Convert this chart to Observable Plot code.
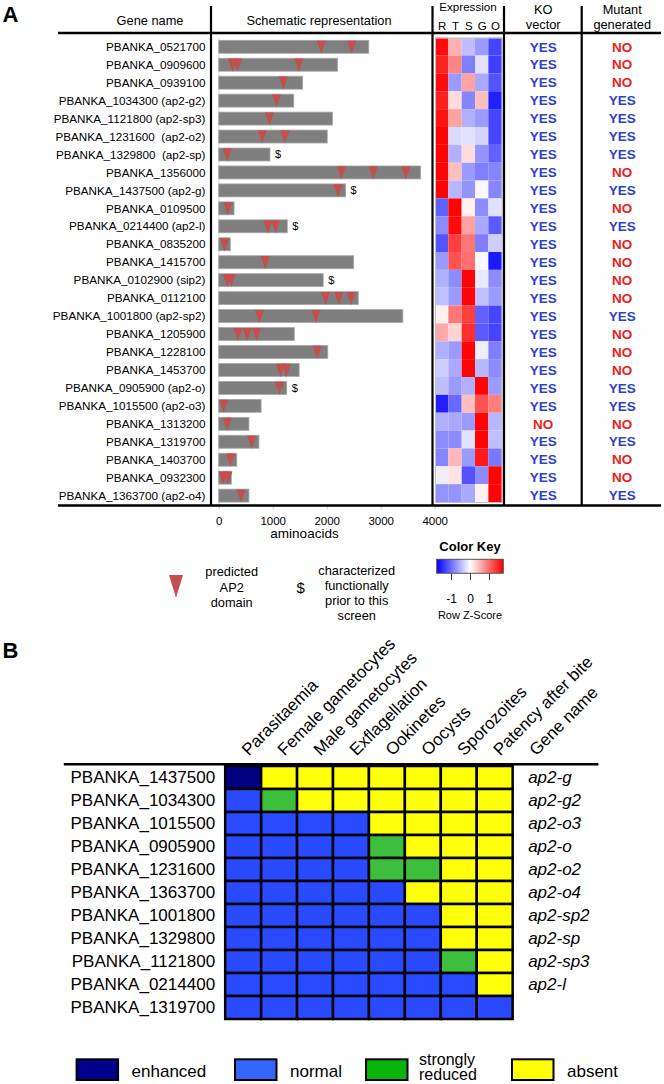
<!DOCTYPE html>
<html><head><meta charset="utf-8">
<script src="https://cdn.jsdelivr.net/npm/d3@7"></script>
<script src="https://cdn.jsdelivr.net/npm/@observablehq/plot@0.6"></script>
<style>
body{margin:0;background:#fff;}
#fig{position:relative;width:664px;height:1084px;font-family:"Liberation Sans",Arial,sans-serif;overflow:hidden;background:#fff;}
#fig svg{display:block;}
</style></head><body><div id="fig"></div>
<script>
// ---------------- Panel A data ----------------
const geneIds = ["PBANKA_0521700","PBANKA_0909600","PBANKA_0939100","PBANKA_1034300","PBANKA_1121800","PBANKA_1231600","PBANKA_1329800","PBANKA_1356000","PBANKA_1437500","PBANKA_0109500","PBANKA_0214400","PBANKA_0835200","PBANKA_1415700","PBANKA_0102900","PBANKA_0112100","PBANKA_1001800","PBANKA_1205900","PBANKA_1228100","PBANKA_1453700","PBANKA_0905900","PBANKA_1015500","PBANKA_1313200","PBANKA_1319700","PBANKA_1403700","PBANKA_0932300","PBANKA_1363700"];
const geneLabels = ["PBANKA_0521700","PBANKA_0909600","PBANKA_0939100","PBANKA_1034300 (ap2-g2)","PBANKA_1121800 (ap2-sp3)","PBANKA_1231600  (ap2-o2)","PBANKA_1329800  (ap2-sp)","PBANKA_1356000","PBANKA_1437500 (ap2-g)","PBANKA_0109500","PBANKA_0214400 (ap2-l)","PBANKA_0835200","PBANKA_1415700","PBANKA_0102900 (sip2)","PBANKA_0112100","PBANKA_1001800 (ap2-sp2)","PBANKA_1205900","PBANKA_1228100","PBANKA_1453700","PBANKA_0905900 (ap2-o)","PBANKA_1015500 (ap2-o3)","PBANKA_1313200","PBANKA_1319700","PBANKA_1403700","PBANKA_0932300","PBANKA_1363700 (ap2-o4)"];
const proteinLength = [2780,2200,1555,1390,2105,2010,950,3740,2350,285,1270,215,2500,1935,2585,3410,1400,2020,1490,1260,785,560,745,335,235,560];
const ap2Domains = [[1890,2455],[250,340,1475],[1190],[1060],[930],[795,1215],[150],[2260,2850,3455],[2200],[160],[900,1045],[100],[850],[150,225],[1970,2215,2445],[745,1790],[345,520,690],[1815],[1135,1245],[1115],[80],[150],[600],[210],[75,160],[405]];
const priorCharacterized = [0,0,0,0,0,0,1,0,1,0,1,0,0,1,0,0,0,0,0,1,0,0,0,0,0,0];
const xTicks = [0,1000,2000,3000,4000];

const exprCols = ["R","T","S","G","O"];
const zR = [1.7,1.55,1.7,1.55,1.65,1.75,1.75,1.75,1.75,-1.1,-0.8,-1.2,-0.7,-0.55,-0.45,0.1,0.6,-0.55,-0.35,-0.45,-1.55,-0.55,-0.8,-0.85,-0.12,-0.75];
const zT = [0.55,0.85,-0.7,0.25,0.65,-0.25,-0.55,0.45,-0.5,1.75,1.7,1.35,1.2,-0.8,-0.7,0.95,0.3,-0.7,-0.6,-0.7,-1.05,-0.6,-0.8,0.5,0.2,-0.75];
const zS = [-0.45,-0.9,0.65,-0.85,-0.55,-0.2,0.25,-0.7,-0.75,0.1,0.65,0.95,1.0,1.75,1.75,1.35,1.45,1.75,1.75,-0.55,0.45,-0.7,-0.2,-0.7,-1.2,-0.6];
const zG = [-0.7,-0.2,-0.6,0.45,-0.7,-0.3,-0.75,-0.9,-0.05,-0.8,-0.6,-0.9,-0.05,-0.15,-0.45,-1.1,-1.15,-0.12,-0.5,1.75,1.2,1.75,1.75,1.6,-0.8,0.1];
const zO = [-1.3,-1.35,-1.2,-1.55,-1.3,-1.3,-1.1,-0.85,-0.85,-0.2,-1.15,-0.35,-1.6,-0.8,-0.7,-1.3,-1.3,-0.9,-0.8,-0.7,0.9,-0.5,-0.45,-0.95,1.75,1.75];
const zKeyTicks = [-1,0,1];

const koVector = ["YES","YES","YES","YES","YES","YES","YES","YES","YES","YES","YES","YES","YES","YES","YES","YES","YES","YES","YES","YES","YES","NO","YES","YES","YES","YES"];
const mutantGenerated = ["NO","NO","NO","YES","YES","YES","YES","NO","YES","NO","YES","NO","NO","NO","NO","YES","NO","NO","NO","YES","YES","NO","YES","NO","NO","YES"];
const ynCols = ["KO vector","Mutant generated"];

// ---------------- Panel B data ----------------
const stages = ["Parasitaemia","Female gametocytes","Male gametocytes","Exflagellation","Ookinetes","Oocysts","Sporozoites","Patency after bite"];
const bGenes = ["PBANKA_1437500","PBANKA_1034300","PBANKA_1015500","PBANKA_0905900","PBANKA_1231600","PBANKA_1363700","PBANKA_1001800","PBANKA_1329800","PBANKA_1121800","PBANKA_0214400","PBANKA_1319700"];
const bNames = ["ap2-g","ap2-g2","ap2-o3","ap2-o","ap2-o2","ap2-o4","ap2-sp2","ap2-sp","ap2-sp3","ap2-l",""];
const bPhenotype = ["EAAAAAAA","NSAAAAAA","NNNNAAAA","NNNNSAAA","NNNNSSAA","NNNNNAAA","NNNNNNAA","NNNNNNAA","NNNNNNSA","NNNNNNNA","NNNNNNNN"];
const statusNames = ["enhanced","normal","strongly reduced","absent"];
const statusCode = {E:"enhanced",N:"normal",S:"strongly reduced",A:"absent"};
const legendLabels = ["enhanced","normal","strongly\nreduced","absent"];

// ---------------- styling ----------------
const FONT = '"Liberation Sans", Arial, sans-serif';
const cellColors = ["#000080","#2a4aff","#3dbf3d","#ffff0a"];
const legendColors = ["#000088","#3366ff","#0ab40a","#ffff00"];
const zColor = {type:"linear", domain:[-1.78,0,1.78], range:["#0000ff","#ffffff","#ff0000"], interpolate:"rgb", clamp:true};
const baseStyle = {background:"transparent", overflow:"visible", fontFamily:FONT, fontSize:"11.5px", color:"black"};
const fig = document.getElementById("fig");
function place(el, left, top){ const d=document.createElement("div"); d.style.position="absolute"; d.style.left=left+"px"; d.style.top=top+"px"; d.style.lineHeight="0"; d.appendChild(el); fig.appendChild(d); return el; }

const downTri = { draw(ctx, size){ const r=Math.sqrt(size/Math.PI), h=r*1.42; ctx.moveTo(-r,-h); ctx.lineTo(r,-h); ctx.lineTo(0,h); ctx.closePath(); } };

// ---------------- Panel A: names + schematic ----------------
const rowsA = geneIds.map((id,i)=>({id, label:geneLabels[i], len:proteinLength[i], dollar:priorCharacterized[i]}));
const domRows = geneIds.flatMap((id,i)=>ap2Domains[i].map(pos=>({id,pos})));
const a1 = Plot.plot({
  width:460, height:545, marginLeft:218.7, marginRight:25.3, marginTop:37.7, marginBottom:40.5,
  x:{domain:[0,4000], axis:null},
  y:{type:"band", domain:geneIds, axis:null, padding:0, round:false},
  style:baseStyle,
  marks:[
    Plot.ruleX([0], {stroke:"#dcdcdc"}),
    Plot.barX(rowsA, {x1:0, x2:"len", y:"id", fill:"#7f7f7f", stroke:"#a8a8a8", strokeWidth:0.8, insetTop:2.6, insetBottom:2.4}),
    Plot.dot(domRows, {x:"pos", y:"id", symbol:downTri, r:4.6, fill:"#c4504e", stroke:null}),
    Plot.text(rowsA.filter(d=>d.dollar), {x:"len", y:"id", text:()=>"$", dx:7.5, fontSize:11}),
    Plot.text(rowsA, {y:"id", text:"label", frameAnchor:"left", dx:-13.7, textAnchor:"end", fontSize:11.7, ariaLabel:"genelab"}),
    Plot.axisX({anchor:"bottom", ticks:xTicks, tickFormat:"d", tickSize:5, tickPadding:6.5, stroke:"#c8c8c8", fill:"black", fontSize:11.5, label:null}),
    Plot.text(["aminoacids"], {frameAnchor:"bottom", dx:-22.7, dy:33, fontSize:13.5})
  ]
});
a1.querySelectorAll('g[aria-label="genelab"] text').forEach(t=>{
  const m = t.textContent.match(/^(.*\()([^)]*)(\))$/);
  if(!m) return;
  t.textContent="";
  [[m[1],null],[m[2],"italic"],[m[3],null]].forEach(([txt,st])=>{
    const ts=document.createElementNS("http://www.w3.org/2000/svg","tspan");
    if(st) ts.setAttribute("font-style",st);
    ts.textContent=txt; t.appendChild(ts);
  });
});
place(a1,0,0);

// ---------------- Panel A: expression heatmap ----------------
const zCols=[zR,zT,zS,zG,zO];
const heat = geneIds.flatMap((id,i)=>exprCols.map((c,j)=>({id,col:c,z:zCols[j][i]})));
const a2 = Plot.plot({
  width:100, height:545, marginLeft:15, marginRight:18.3, marginTop:37.7, marginBottom:43,
  x:{type:"band", domain:exprCols, axis:null, padding:0, round:false},
  y:{type:"band", domain:geneIds, axis:null, padding:0, round:false},
  color:zColor,
  style:baseStyle,
  marks:[
    Plot.cell(heat, {x:"col", y:"id", fill:"z"}),
    Plot.frame({stroke:"#c0c0c0"}),
    Plot.text(exprCols, {x:d=>d, frameAnchor:"top", dy:-16.5, fontSize:11.5})
  ]
});
place(a2,420,0);

// ---------------- Panel A: KO / mutant ----------------
const yn = geneIds.flatMap((id,i)=>[{id,col:ynCols[0],v:koVector[i]},{id,col:ynCols[1],v:mutantGenerated[i]}]);
const a3 = Plot.plot({
  width:164, height:545, marginLeft:3.2, marginRight:2.8, marginTop:37.7, marginBottom:40.5,
  x:{type:"band", domain:ynCols, axis:null, padding:0, round:false},
  y:{type:"band", domain:geneIds, axis:null, padding:0, round:false},
  color:{domain:["YES","NO"], range:["#2e3fd1","#ee1c1c"]},
  style:baseStyle,
  marks:[
    Plot.text(yn, {x:"col", y:"id", text:"v", fill:"v", fontWeight:"bold", fontSize:13.5}),
    Plot.text(ynCols, {x:d=>d, text:d=>d.replace(" ","\n"), frameAnchor:"top", lineAnchor:"bottom", dy:-9.4, fontSize:12.8, lineHeight:1.15})
  ]
});
place(a3,500,0);

// ---------------- Color key ----------------
const key = Plot.legend({
  color:zColor,
  ticks:zKeyTicks, tickFormat:d=>String(d),
  width:100, height:52, marginLeft:16.7, marginRight:16.7, marginTop:4, marginBottom:34,
  tickSize:18, label:null,
  style:{background:"transparent", overflow:"visible", fontFamily:FONT, fontSize:"12px", color:"black"}
});
key.querySelectorAll(".tick line").forEach(l=>{ l.setAttribute("y1",0); l.setAttribute("y2",7); l.setAttribute("stroke","#333"); });
key.querySelectorAll(".domain").forEach(p=>p.remove());
place(key,420,555.3);

// ---------------- Panel B ----------------
const phen = bGenes.flatMap((g,i)=>stages.map((s,j)=>({gene:g, stage:s, status:statusCode[bPhenotype[i][j]]})));
const bCols = [...stages,"Gene name"];
const pb = Plot.plot({
  width:664, height:400, marginLeft:225.2, marginRight:115.4, marginTop:126, marginBottom:21,
  x:{type:"band", domain:bCols, axis:null, padding:0, round:false},
  y:{type:"band", domain:bGenes, axis:null, padding:0, round:false},
  color:{domain:statusNames, range:cellColors},
  style:{...baseStyle, fontSize:"17px"},
  marks:[
    Plot.cell(phen, {x:"stage", y:"gene", fill:"status", stroke:"black", strokeWidth:2.5}),
    Plot.text(bGenes, {y:d=>d, frameAnchor:"left", textAnchor:"end", dx:-10.6, fontSize:17}),
    Plot.text(bGenes.map((g,i)=>({g,n:bNames[i]})), {x:()=>"Gene name", y:"g", text:"n", textAnchor:"start", dx:-3, fontSize:17, fontStyle:"italic"}),
    Plot.text(bCols, {x:d=>d, frameAnchor:"top", rotate:-45, textAnchor:"start", lineAnchor:"bottom", dx:5, dy:-10, fontSize:17})
  ]
});
place(pb,0,640);

// ---------------- decorations (rules, headers, legends) ----------------
const deco = d3.create("svg").attr("width",664).attr("height",1084)
  .style("position","absolute").style("left","0px").style("top","0px").style("font-family",FONT);
const L = (x1,y1,x2,y2,w)=>deco.append("line").attr("x1",x1).attr("y1",y1).attr("x2",x2).attr("y2",y2).attr("stroke","black").attr("stroke-width",w);
L(58,33,661,33,2.3); L(58,505.5,661,505.5,2.3);
[211,432.5,504,581.7].forEach(x=>L(x,6,x,505.5,2.2));
L(63.8,764.3,598.4,764.3,2.5);
const T = (txt,x,y,size,opts={})=>{ const t=deco.append("text").attr("x",x).attr("y",y).attr("font-size",size).attr("text-anchor",opts.anchor||"middle").text(txt); if(opts.bold) t.attr("font-weight","bold"); if(opts.italic) t.attr("font-style","italic"); return t; };
T("A",2.5,21.5,22,{anchor:"start",bold:true});
T("B",2.5,657.5,22,{anchor:"start",bold:true});
T("Gene name",150,24.5,12.8);
T("Schematic representation",319,24.5,12.8);
T("Expression",468,10.8,11.6);
deco.append("path").attr("d","M169,575L183,575L176,597.7Z").attr("fill","#c4504e");
["predicted","AP2","domain"].forEach((s,i)=>T(s,231.7,576.3+i*15.2,12.8));
T("$",300.7,592.5,15);
["characterized","functionally","prior to this","screen"].forEach((s,i)=>T(s,356.7,574.5+i*15.2,12.8));
T("Color Key",470,551.3,13,{bold:true});
deco.append("rect").attr("x",436.7).attr("y",559.3).attr("width",66.6).attr("height",14).attr("fill","none").attr("stroke","#555").attr("stroke-width",1);
T("Row Z-Score",470,618.7,11);
const legX=[76.6,235,366,512];
legendLabels.forEach((lab,i)=>{
  deco.append("rect").attr("x",legX[i]).attr("y",1059.3).attr("width",41.5).attr("height",20.7).attr("fill",legendColors[i]).attr("stroke","black").attr("stroke-width",2);
  const lines=lab.split("\n");
  const t=deco.append("text").attr("x",legX[i]+55).attr("text-anchor","start");
  if(lines.length===1){ t.attr("y",1077).attr("font-size",17).text(lab); }
  else { t.attr("font-size",16); lines.forEach((s,k)=>t.append("tspan").attr("x",legX[i]+53).attr("y",1065+k*15).text(s)); }
});
fig.appendChild(deco.node());
</script></body></html>
